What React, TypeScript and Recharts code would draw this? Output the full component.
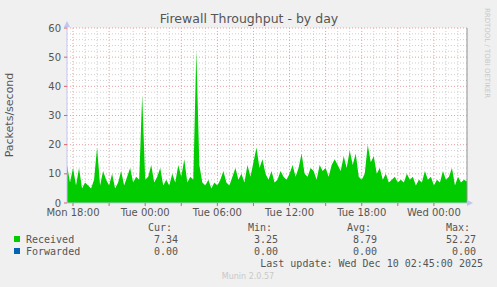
import React from 'react';
import { ComposedChart, Area, XAxis, YAxis, ReferenceLine, CartesianGrid } from 'recharts';

// time axis: hours since Mon 00:00, one sample every 15 minutes from Mon 17:30
const startHour = 17.5;
const stepHours = 0.25;

const received = [
  13, 7, 12, 6, 12, 5, 7, 6, 5, 8,
  19, 6, 11, 8, 6, 10, 5, 7, 11, 6,
  9, 12, 7, 9, 8, 37, 8, 9, 13, 7,
  9, 12, 6, 8, 6, 10, 7, 13, 9, 15,
  7, 9, 8, 52.27, 13, 7, 6, 8, 5, 7,
  6, 8, 11, 7, 6, 9, 12, 8, 10, 7,
  13, 9, 14, 19, 12, 15, 10, 8, 11, 7,
  8, 11, 9, 8, 10, 13, 9, 12, 17, 10,
  9, 12, 11, 8, 13, 11, 12, 9, 13, 15,
  13, 11, 16, 12, 18, 13, 17, 9, 8, 10,
  20, 14, 16, 10, 12, 8, 10, 7, 8, 9,
  7, 8, 7, 10, 8, 9, 6, 8, 7, 11,
  8, 9, 6, 8, 7, 11, 8, 9, 12, 6,
  9, 7, 8, 7.34,
];

const xMajorTicks = [18, 21, 24, 27, 30, 33, 36, 39, 42, 45, 48];
const xTickLabels: Record<number, string> = {
  18: 'Mon 18:00',
  24: 'Tue 00:00',
  30: 'Tue 06:00',
  36: 'Tue 12:00',
  42: 'Tue 18:00',
  48: 'Wed 00:00',
};
const xMinorLines = [
  19, 20, 22, 23, 25, 26, 28, 29, 31, 32, 34, 35, 37, 38, 40, 41, 43, 44, 46, 47, 49, 50,
];
const yTicks = [0, 10, 20, 30, 40, 50, 60];
const yMajorLines = [10, 20, 30, 40, 50, 60];
const yMinorLines = [2, 4, 6, 8, 12, 14, 16, 18, 22, 24, 26, 28, 32, 34, 36, 38, 42, 44, 46, 48, 52, 54, 56, 58];

const seriesNames = ['Received', 'Forwarded'];
const seriesColors = ['#00cc00', '#0066b3'];
const curValues = ['7.34', '0.00'];
const minValues = ['3.25', '0.00'];
const avgValues = ['8.79', '0.00'];
const maxValues = ['52.27', '0.00'];

const data = received.map((v, i) => ({ t: startHour + i * stepHours, received: v }));
const endHour = startHour + (received.length - 1) * stepHours;

const minorColor = '#cfcfcf';
const majorColor = '#eaa0a0';
const axisColor = '#c4c4f2';
const textColor = '#555555';
const mono = '"DejaVu Sans Mono", monospace';
const sans = '"DejaVu Sans", sans-serif';

export default function App() {
  return (
    <div style={{ position: 'absolute', left: 0, top: 0, width: 497, height: 287, background: '#f0f0f0', overflow: 'hidden' }}>
      <ComposedChart
        width={497}
        height={287}
        data={data}
        margin={{ top: 28, right: 30, left: 37, bottom: 64 }}
      >
        <CartesianGrid
          fill="#ffffff"
          stroke={minorColor}
          strokeDasharray="1 2"
          verticalValues={xMinorLines}
          horizontalValues={yMinorLines}
        />
        <CartesianGrid
          stroke={majorColor}
          strokeDasharray="1 2"
          verticalValues={xMajorTicks}
          horizontalValues={yMajorLines}
        />
        <XAxis
          dataKey="t"
          type="number"
          domain={[startHour, endHour]}
          ticks={xMajorTicks}
          tickFormatter={(v: number) => xTickLabels[v] || ''}
          axisLine={{ stroke: axisColor }}
          tickLine={{ stroke: '#e06060' }}
          tickSize={3}
          tickMargin={3}
          height={20}
          interval={0}
          tick={{ fill: textColor, fontSize: 10, fontFamily: sans }}
        />
        <YAxis
          type="number"
          domain={[0, 60]}
          ticks={yTicks}
          axisLine={{ stroke: axisColor }}
          tickLine={{ stroke: '#e06060' }}
          tickSize={3}
          tickMargin={3}
          width={30}
          interval={0}
          tick={{ fill: textColor, fontSize: 10, fontFamily: sans }}
        />
        <Area
          type="linear"
          dataKey="received"
          stroke="none"
          fill="#00cc00"
          fillOpacity={1}
          isAnimationActive={false}
        />
        <ReferenceLine x={endHour} stroke="#909090" />
      </ComposedChart>
      <svg width={497} height={287} style={{ position: 'absolute', left: 0, top: 0, pointerEvents: 'none' }}>
        <polygon points="64,27 70,27 67,21" fill={axisColor} />
        <polygon points="467,200 467,206 473,203" fill={axisColor} />
        <text x={249} y={23} textAnchor="middle" fontFamily={sans} fontSize={12.5} fill={textColor}>
          Firewall Throughput - by day
        </text>
        <text
          x={13}
          y={115}
          textAnchor="middle"
          fontFamily={sans}
          fontSize={11}
          fill={textColor}
          transform="rotate(-90 13 115)"
        >
          Packets/second
        </text>
        <text
          x={485}
          y={53}
          textAnchor="middle"
          fontFamily={sans}
          fontSize={7}
          fill="#c8c8c8"
          transform="rotate(90 485 53)"
        >
          RRDTOOL / TOBI OETIKER
        </text>
        <g fontFamily={mono} fontSize={10} fill={textColor}>
          <text x={172} y={231} textAnchor="end">Cur:</text>
          <text x={272} y={231} textAnchor="end">Min:</text>
          <text x={371} y={231} textAnchor="end">Avg:</text>
          <text x={470} y={231} textAnchor="end">Max:</text>
          {seriesNames.map((name, i) => (
            <g key={name}>
              <rect x={14} y={236 + i * 12} width={6} height={6} fill={seriesColors[i]} />
              <text x={26} y={243 + i * 12}>{name}</text>
              <text x={178} y={243 + i * 12} textAnchor="end">{curValues[i]}</text>
              <text x={278} y={243 + i * 12} textAnchor="end">{minValues[i]}</text>
              <text x={377} y={243 + i * 12} textAnchor="end">{avgValues[i]}</text>
              <text x={476} y={243 + i * 12} textAnchor="end">{maxValues[i]}</text>
            </g>
          ))}
          <text x={483} y={267} textAnchor="end">Last update: Wed Dec 10 02:45:00 2025</text>
        </g>
        <text x={248} y={279} textAnchor="middle" fontFamily={sans} fontSize={8} fill="#c8c8c8">
          Munin 2.0.57
        </text>
      </svg>
    </div>
  );
}
